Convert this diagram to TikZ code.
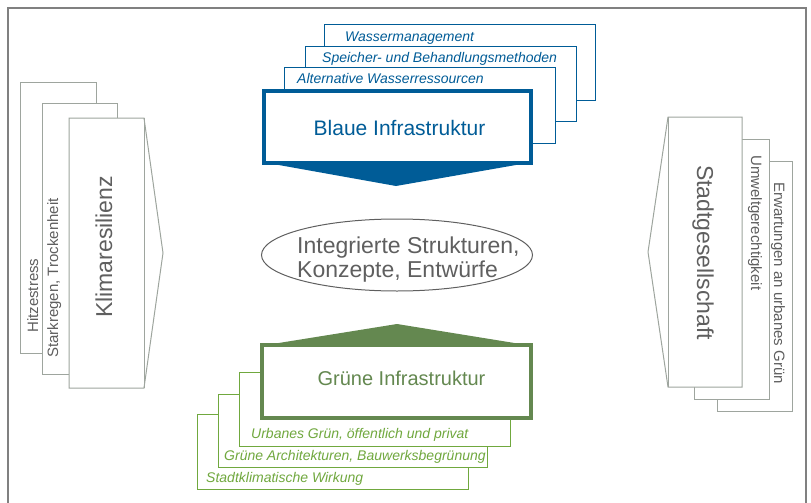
\documentclass[tikz,border=0pt]{standalone}
\usepackage{fontspec}
\setmainfont{Liberation Sans}
\usetikzlibrary{shapes.geometric}
\definecolor{blau}{RGB}{0,92,151}
\definecolor{gruen}{RGB}{100,136,80}
\definecolor{hellgruen}{RGB}{112,168,62}
\definecolor{rahmen}{RGB}{158,165,158}
\definecolor{schrift}{RGB}{95,95,95}

\begin{document}
\begin{tikzpicture}[x=1pt,y=-1pt,
	klein/.style={font=\fontsize{15}{18}\selectfont,text=schrift,inner sep=0pt},
	gross/.style={font=\fontsize{23}{27}\selectfont,text=schrift,inner sep=0pt},
	kursiv/.style={font=\fontsize{14}{17}\selectfont\itshape,inner sep=0pt,anchor=base west},
	titel/.style={font=\fontsize{21}{25}\selectfont,inner sep=0pt,anchor=base},
	karte/.style={fill=white,line width=1}]
					\useasboundingbox (0,0) rectangle (811,503);
					\draw[gray,line width=1.2] (8,8) rectangle (806,515);
					\draw[rahmen,karte] (20,82) rectangle (96,353);
					\draw[rahmen,karte] (42,103) rectangle (117,374);
					\draw[rahmen,karte] (69,118) -- (144,118) -- (163,253) -- (144,388) -- (69,388) -- cycle;
					\draw[rahmen,line width=1] (144,118) -- (144,388);
					\draw[rahmen,karte] (717,161) rectangle (792,411);
					\draw[rahmen,karte] (694,139) rectangle (769,399);
					\draw[rahmen,karte] (742,117) -- (668,117) -- (648,252) -- (668,387) -- (742,387) -- cycle;
					\draw[rahmen,line width=1] (668,117) -- (668,387);
					\draw[blau,karte] (324,25) rectangle (595,100);
					\draw[blau,karte] (305,47) rectangle (576,121);
					\draw[blau,karte] (284,68) rectangle (555,143);
					\draw[blau,fill=white,line width=3.5] (264,91) rectangle (531,163);
					\fill[blau] (262,162) -- (533,162) -- (396,186) -- cycle;
					\draw[hellgruen,karte] (197,414) rectangle (468,489);
					\draw[hellgruen,karte] (218,394) rectangle (487,467);
					\draw[hellgruen,karte] (239,372) rectangle (510,446);
					\draw[gruen,fill=white,line width=3.5] (262,345) rectangle (531,418);
					\fill[gruen] (260,346) -- (397,324) -- (533,346) -- cycle;
					\path (38,333) node[klein,rotate=90,anchor=base west] (v0) {Hitzestress};
					\path (58,358) node[klein,rotate=90,anchor=base west] (v1) {Starkregen, Trockenheit};
					\path (112,318) node[gross,rotate=90,anchor=base west] (v2) {Klimaresilienz};
					\path (774,182) node[klein,rotate=-90,anchor=base west] (v3) {Erwartungen an urbanes Grün};
					\path (751,155) node[klein,rotate=-90,anchor=base west] (v4) {Umweltgerechtigkeit};
					\path (697,165) node[gross,rotate=-90,anchor=base west] (v5) {Stadtgesellschaft};
					\path (345,42) node[kursiv,text=blau] (v6) {Wassermanagement};
					\path (322,63) node[kursiv,text=blau] (v7) {Speicher- und Behandlungsmethoden};
					\path (297,84) node[kursiv,text=blau] (v8) {Alternative Wasserressourcen};
					\path (399.5,135) node[titel,text=blau] (v9) {Blaue Infrastruktur};
					\path (397,255) node[draw=schrift,line width=1,ellipse,minimum width=271,minimum height=72,inner sep=0pt] (v10) {};
					\path (297,253) node[gross,anchor=base west] (v11) {Integrierte Strukturen,};
					\path (297,277) node[gross,anchor=base west] (v12) {Konzepte, Entwürfe};
					\path (401.5,385) node[titel,font=\fontsize{20}{24}\selectfont,text=gruen] (v13) {Grüne Infrastruktur};
					\path (251,438) node[kursiv,text=hellgruen] (v14) {Urbanes Grün, öffentlich und privat};
					\path (224,460) node[kursiv,text=hellgruen] (v15) {Grüne Architekturen, Bauwerksbegrünung};
					\path (206,482) node[kursiv,text=hellgruen] (v16) {Stadtklimatische Wirkung};
					\end{tikzpicture}
\end{document}
